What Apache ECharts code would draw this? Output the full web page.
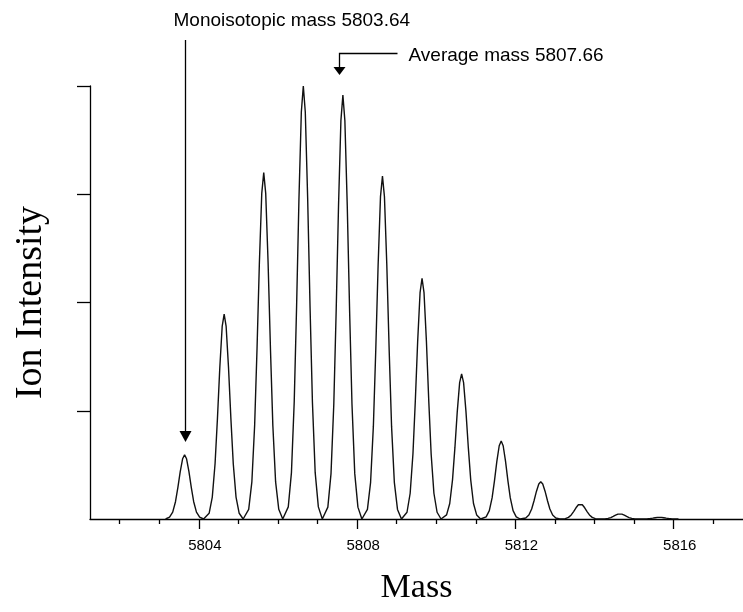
<!DOCTYPE html>
<html>
<head>
<meta charset="utf-8">
<script src="https://cdn.jsdelivr.net/npm/echarts@6/dist/echarts.min.js"></script>
<style>
  html, body { margin: 0; padding: 0; background: #fff; }
  #chart { width: 743px; height: 612px; }
</style>
</head>
<body>
<div id="chart"></div>
<script>
// isotope peaks (mass, relative intensity %)
const peakMass = [5803.64, 5804.64, 5805.64, 5806.64, 5807.64, 5808.64, 5809.64,
  5810.64, 5811.64, 5812.64, 5813.64, 5814.64, 5815.64];
const peakIntensity = [14.8, 47.3, 80.0, 100, 97.9, 79.2, 55.6, 33.5, 18.0, 8.6, 3.5, 1.2, 0.4];
// peak profile: mass offset from apex, fraction of apex height
const shapeOffset = [-0.48, -0.38, -0.3, -0.23, -0.17, -0.11, -0.05, 0, 0.05, 0.11, 0.17, 0.23, 0.3, 0.38, 0.48];
const shapeFraction = [0, 0.028, 0.107, 0.27, 0.49, 0.74, 0.94, 1, 0.94, 0.74, 0.49, 0.27, 0.107, 0.028, 0];
// axis ticks
const majorTicks = [5804, 5808, 5812, 5816];
const minorTicks = [5802, 5803, 5805, 5806, 5807, 5809, 5810, 5811, 5813, 5814, 5815, 5817];
const yTicks = [25, 50, 75, 100];
const monoMass = 5803.64;
const avgMass = 5807.66;

// build the line points
let profile = [];
peakMass.forEach((m, i) => {
  shapeOffset.forEach((d, j) => {
    profile.push([+(m + d).toFixed(3), peakIntensity[i] * shapeFraction[j]]);
  });
});

const chart = echarts.init(document.getElementById('chart'), null, { renderer: 'canvas' });

const option = {
  animation: false,
  backgroundColor: '#fff',
  grid: { left: 90, right: 0, top: 86, bottom: 93 },
  xAxis: [
    {
      type: 'value',
      min: 5801.25,
      max: 5817.75,
      name: 'Mass',
      nameLocation: 'middle',
      nameGap: 52,
      nameTextStyle: { fontFamily: 'Liberation Serif', fontSize: 34, color: '#000' },
      axisLine: { lineStyle: { color: '#000', width: 1.3 } },
      axisTick: { customValues: majorTicks, length: 10, lineStyle: { color: '#000', width: 1.3 } },
      axisLabel: {
        customValues: majorTicks,
        formatter: v => String(v),
        margin: 19,
        padding: [0, 0, 0, 12],
        fontFamily: 'Liberation Sans',
        fontSize: 15,
        color: '#000'
      },
      splitLine: { show: false }
    },
    {
      type: 'value',
      position: 'bottom',
      min: 5801.25,
      max: 5817.75,
      axisLine: { show: false },
      axisTick: { customValues: minorTicks, length: 5, lineStyle: { color: '#000', width: 1.3 } },
      axisLabel: { show: false },
      splitLine: { show: false }
    }
  ],
  yAxis: {
    type: 'value',
    min: 0,
    max: 100,
    interval: 25,
    name: 'Ion Intensity',
    nameLocation: 'middle',
    nameGap: 40,
    nameTextStyle: { fontFamily: 'Liberation Serif', fontSize: 38, color: '#000' },
    axisLine: { show: true, lineStyle: { color: '#000', width: 1.3 } },
    axisTick: { show: true, customValues: yTicks, length: 13, lineStyle: { color: '#000', width: 1.3 } },
    axisLabel: { show: false },
    splitLine: { show: false }
  },
  series: [
    {
      type: 'line',
      xAxisIndex: 0,
      data: profile,
      showSymbol: false,
      lineStyle: { color: '#111', width: 1.4 },
      z: 3
    }
  ]
};
chart.setOption(option);

// annotation arrows, placed with the x scale
const monoX = Math.round(chart.convertToPixel({ xAxisIndex: 0 }, monoMass)) + 0.5;
const avgX = Math.round(chart.convertToPixel({ xAxisIndex: 0 }, avgMass)) - 4.5;
const txt = { fontFamily: 'Liberation Sans', fontSize: 19, fill: '#000' };
chart.setOption({
  graphic: [
    { type: 'text', left: monoX - 12, top: 11, style: Object.assign({ text: 'Monoisotopic mass 5803.64' }, txt) },
    { type: 'line', shape: { x1: monoX, y1: 40, x2: monoX, y2: 432 }, style: { stroke: '#000', lineWidth: 1.3 } },
    { type: 'polygon', shape: { points: [[monoX - 6, 431], [monoX + 6, 431], [monoX, 442]] }, style: { fill: '#000' } },
    { type: 'text', left: avgX + 69, top: 46, style: Object.assign({ text: 'Average mass 5807.66' }, txt) },
    { type: 'polyline', shape: { points: [[avgX + 58, 53.5], [avgX, 53.5], [avgX, 68]] }, style: { stroke: '#000', lineWidth: 1.3, fill: null } },
    { type: 'polygon', shape: { points: [[avgX - 6, 67], [avgX + 6, 67], [avgX, 75]] }, style: { fill: '#000' } }
  ]
});
</script>
</body>
</html>
